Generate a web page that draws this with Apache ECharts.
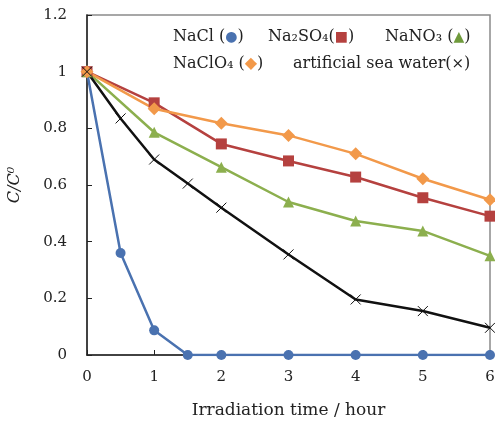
<!DOCTYPE html>
<html>
<head>
<meta charset="utf-8">
<script src="https://cdn.jsdelivr.net/npm/echarts@6/dist/echarts.min.js"></script>
<style>
html,body{margin:0;padding:0;background:#fff;}
#c{width:495px;height:422px;}
</style>
</head>
<body>
<div id="c"></div>
<script>
const xHalf = [0, 0.5, 1, 1.5, 2, 3, 4, 5, 6];
const xHour = [0, 1, 2, 3, 4, 5, 6];
const naCl = [1, 0.36, 0.087, 0, 0, 0, 0, 0, 0];
const na2SO4 = [1, 0.89, 0.745, 0.685, 0.628, 0.555, 0.49];
const naNO3 = [1, 0.786, 0.663, 0.54, 0.473, 0.438, 0.35];
const naClO4 = [1, 0.869, 0.818, 0.775, 0.71, 0.622, 0.548];
const seaWater = [1, 0.835, 0.69, 0.605, 0.52, 0.355, 0.196, 0.155, 0.096];
const yTicks = [0, 0.2, 0.4, 0.6, 0.8, 1, 1.2];
const xTicks = [0, 1, 2, 3, 4, 5, 6];

const pair = (xs, ys) => xs.map((x, i) => [x, ys[i]]);
const FONT = '"DejaVu Serif", "Liberation Serif", serif';

const chart = echarts.init(document.getElementById('c'), null, {renderer: 'canvas'});

const crossPath = 'path://M0,0 L10,10 M10,0 L0,10';

function series(name, data, color, symbol, size) {
  return {
    name, type: 'line', data, symbol, symbolSize: size,
    lineStyle: {color, width: 2.5},
    itemStyle: {color},
    animation: false, z: 3
  };
}

const rich = {
  t: {fontFamily: FONT, fontSize: 16, fill: '#222'},
  b: {fontFamily: FONT, fontSize: 14, fill: '#4a72b0'},
  r: {fontFamily: FONT, fontSize: 14, fill: '#b5413f'},
  g: {fontFamily: FONT, fontSize: 14, fill: '#6f9a3c'},
  o: {fontFamily: FONT, fontSize: 16, fill: '#f2994a'},
  k: {fontFamily: FONT, fontSize: 15, fill: '#222'}
};

const legendItems = [
  {text: '{t|NaCl (}{b|●}{t|)}', left: 173, top: 29},
  {text: '{t|Na₂SO₄(}{r|■}{t|)}', left: 268, top: 29},
  {text: '{t|NaNO₃ (}{g|▲}{t|)}', left: 385, top: 29},
  {text: '{t|NaClO₄ (}{o|◆}{t|)}', left: 173, top: 56},
  {text: '{t|artificial sea water(}{k|×}{t|)}', left: 293, top: 56}
];

chart.setOption({
  animation: false,
  grid: {left: 87, right: 5, top: 15, bottom: 67, outerBoundsMode: 'none', containLabel: false,
    show: true, borderColor: '#8a8a8a', borderWidth: 1.5, backgroundColor: 'transparent'},
  xAxis: {
    type: 'value', min: 0, max: 6, interval: 1,
    axisLine: {show: true, onZero: false, lineStyle: {color: '#222', width: 1.5}},
    axisTick: {show: true, inside: true, length: 5, lineStyle: {color: '#222', width: 1}},
    splitLine: {show: false},
    axisLabel: {color: '#222', fontFamily: FONT, fontSize: 15, margin: 15,
      formatter: v => xTicks.includes(v) ? String(v) : ''},
    name: 'Irradiation time / hour', nameLocation: 'middle', nameGap: 47,
    nameTextStyle: {color: '#222', fontFamily: FONT, fontSize: 17}
  },
  yAxis: {
    type: 'value', min: 0, max: 1.2, interval: 0.2,
    axisLine: {show: true, onZero: false, lineStyle: {color: '#222', width: 1.5}},
    axisTick: {show: true, inside: true, length: 5, lineStyle: {color: '#222', width: 1}},
    splitLine: {show: false},
    axisLabel: {color: '#222', fontFamily: FONT, fontSize: 15, margin: 20,
      formatter: v => { const t = yTicks.find(y => Math.abs(y - v) < 1e-6); return t === undefined ? '' : String(t); }},
    name: 'C/C⁰', nameLocation: 'middle', nameGap: 64, nameRotate: 90,
    nameTextStyle: {color: '#222', fontFamily: FONT, fontSize: 16, fontStyle: 'italic'}
  },
  series: [
    series('NaCl', pair(xHalf, naCl), '#4a72b0', 'circle', 10),
    series('Na2SO4', pair(xHour, na2SO4), '#b5413f', 'rect', 11),
    series('NaNO3', pair(xHour, naNO3), '#8caf4e', 'triangle', 11),
    series('NaClO4', pair(xHour, naClO4), '#f2994a', 'diamond', 13),
    Object.assign(series('artificial sea water', pair(xHalf, seaWater), '#111', crossPath, 10),
      {itemStyle: {color: 'none', borderColor: '#111', borderWidth: 1}})
  ],
  graphic: legendItems.map(it => ({
    type: 'text', left: it.left, top: it.top, z: 10,
    style: {text: it.text, rich}
  }))
});
</script>
</body>
</html>
